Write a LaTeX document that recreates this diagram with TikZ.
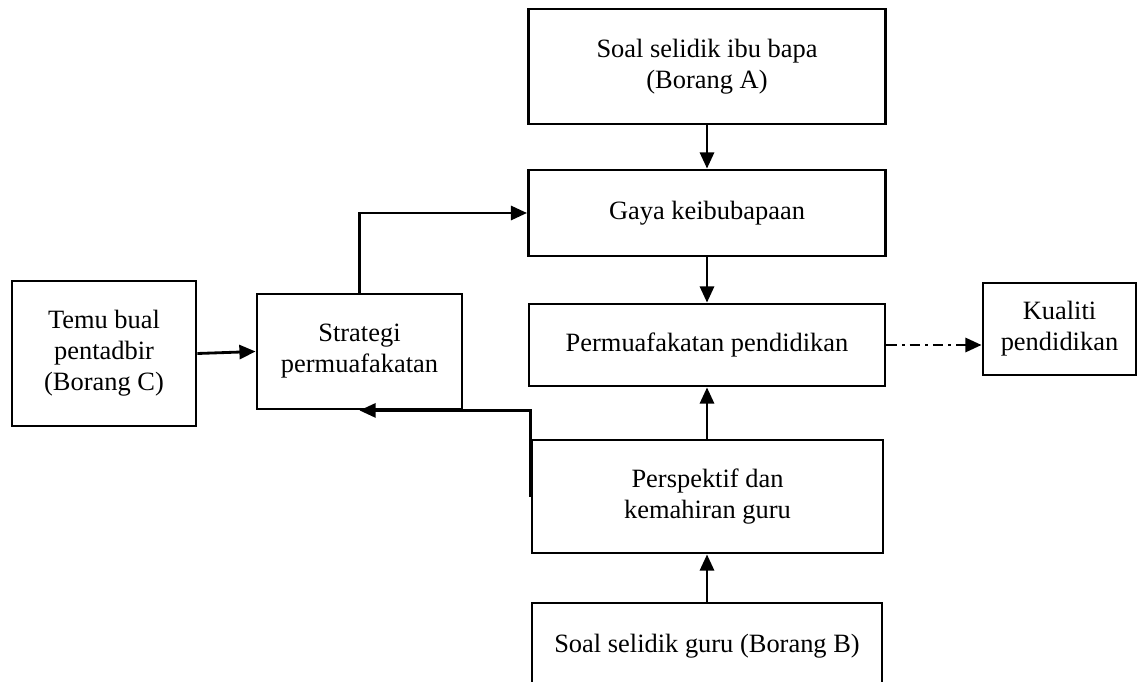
\documentclass[tikz,border=0pt]{standalone}
\usepackage{fontspec}
\setmainfont{Liberation Serif}
\usetikzlibrary{arrows.meta}
\tikzset{
  >={Triangle[length=11.5pt,width=10pt]},
  box/.style={draw, line width=2pt, inner sep=0pt, align=center,
    font=\fontsize{18.8}{22}\selectfont},
  flow/.style={->, line width=2pt},
}
\begin{document}
\begin{tikzpicture}[x=0.025cm, y=-0.025cm]
\useasboundingbox (0,0) rectangle (1144,682);

%Centre column
\node [box, minimum width=8.925cm, minimum height=2.875cm] (boranga) at (707,66.5) {Soal selidik ibu bapa\\(Borang A)};
\node [box, minimum width=8.925cm, minimum height=2.15cm] (gaya) at (707,213) {Gaya keibubapaan};
\node [box, minimum width=8.9cm, minimum height=2.05cm] (perm) at (707,345) {Permuafakatan pendidikan};
\node [box, minimum width=8.775cm, minimum height=2.825cm] (persp) at (707.5,496.5) {Perspektif dan\\kemahiran guru};
\node [box, minimum width=8.75cm, minimum height=2.175cm] (borangb) at (707,646.5) {Soal selidik guru (Borang B)};

%Left side
\node [box, minimum width=4.6cm, minimum height=3.625cm] (temu) at (104,353.5) {Temu bual\\pentadbir\\(Borang C)};
\node [box, minimum width=5.125cm, minimum height=2.875cm] (strat) at (359.5,351.5) {Strategi\\permuafakatan};

%Right side
\node [box, minimum width=3.825cm, minimum height=2.3cm] (kual) at (1059.5,329) {Kualiti\\pendidikan};

%Flow lines
\draw [flow] (boranga.south) -- (gaya.north);
\draw [flow] (gaya.south) -- (perm.north);
\draw [flow] (borangb.north) -- (borangb.north |- persp.south);
\draw [flow] (persp.north -| perm.south) -- (perm.south);
\draw [flow] (temu.east) -- (strat.west);
\draw [flow] (strat.north) |- (gaya.west);
\draw [flow] (persp.west) |- (strat.south);
\draw [flow, dash pattern=on 7.5pt off 3.5pt on 2pt off 3.5pt] (perm.east) -- (perm.east -| kual.west);
\end{tikzpicture}
\end{document}
